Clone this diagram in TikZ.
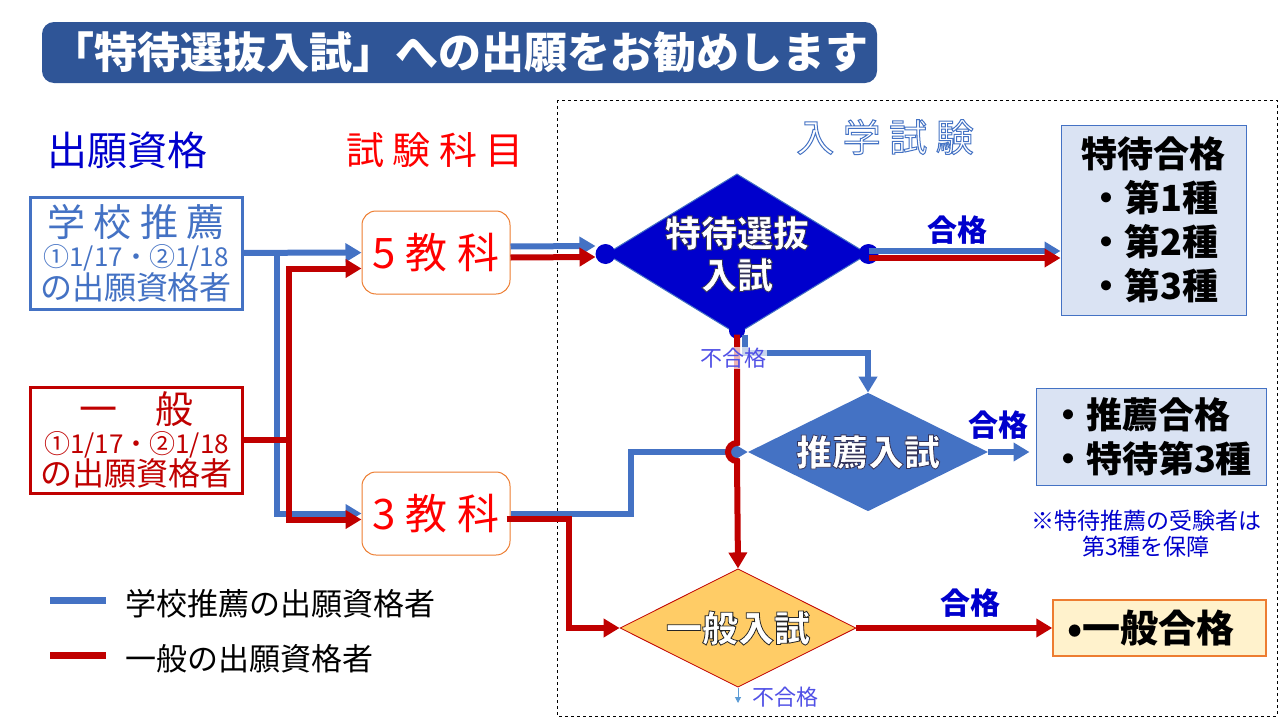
\documentclass[tikz,border=0pt]{standalone}
\usepackage{fontspec}
\setmainfont{Noto Sans CJK JP}
\usetikzlibrary{shapes.geometric,arrows.meta,calc}
\definecolor{titleblue}{RGB}{47,85,151}
\definecolor{lineblue}{RGB}{68,114,196}
\definecolor{linered}{RGB}{192,0,0}
\definecolor{textred}{RGB}{255,0,0}
\definecolor{deepblue}{RGB}{0,0,204}
\definecolor{paleblue}{RGB}{218,227,243}
\definecolor{edgeorange}{RGB}{237,125,49}
\definecolor{ippanfill}{RGB}{255,204,102}
\definecolor{paleyellow}{RGB}{255,242,204}
\definecolor{failblue}{RGB}{80,80,230}
\definecolor{skyline}{RGB}{91,155,213}
% outlined letters (fill + stroke)
\newcommand\rimtext[3]{\special{pdf:literal direct #1 RG #2 w 2 Tr}#3\special{pdf:literal direct 0 Tr}}
\begin{document}
\begin{tikzpicture}[x=1pt, y=-1pt, >={Triangle[length=16pt,width=18pt]},
    every node/.style={inner sep=0pt},
    bl/.style={draw=lineblue, line width=6pt},
    rd/.style={draw=linered, line width=6pt},
    qualbox/.style={draw, line width=3pt, fill=white, minimum width=212pt, minimum height=112pt, align=center, font=\fontsize{26}{30}\selectfont},
    subjbox/.style={draw=edgeorange, line width=1pt, fill=white, rounded corners=14pt, minimum width=148pt, minimum height=83pt, text=textred, font=\fontsize{42}{44}\selectfont},
    decision/.style={diamond, inner sep=-15pt, text=white, align=center, font=\bfseries\fontsize{36}{42}\selectfont},
    passbox/.style={draw=lineblue, line width=1pt, fill=paleblue, font=\bfseries\fontsize{36}{44}\selectfont},
    passlabel/.style={text=deepblue, font=\bfseries\fontsize{30}{32}\selectfont},
    faillabel/.style={text=failblue, font=\fontsize{22}{24}\selectfont}]
\useasboundingbox (0,0) rectangle (1280,720);
\draw[dashed, line width=1pt] (557,100) rectangle (1277,716);

% title
\node[fill=titleblue, rounded corners=12pt, minimum width=835pt, minimum height=61pt, text=white, font=\bfseries\fontsize{43}{43}\selectfont] (title) at (459.5,52.5) {「特待選抜入試」への出願をお勧めします};

\node[text=deepblue, font=\fontsize{40}{40}\selectfont] (qualhead) at (127,150) {出願資格};
\node[text=textred, font=\fontsize{38}{40}\selectfont] (subjhead) at (435,150) {試 験 科 目};
\node[text=white, font=\fontsize{38}{40}\selectfont] (examhead) at (885,137) {\rimtext{0.27 0.45 0.77}{1}{入 学 試 験}};

% qualification
\node[qualbox, draw=lineblue, text=lineblue] (gakko) at (136,253) {{\fontsize{38}{30}\selectfont 学 校 推 薦}\\①1/17・②1/18\\{\fontsize{32}{30}\selectfont の出願資格者}};
\node[qualbox, draw=linered, text=linered, minimum height=106pt] (ippan) at (136.5,440) {{\fontsize{38}{30}\selectfont 一　般}\\①1/17・②1/18\\{\fontsize{32}{30}\selectfont の出願資格者}};

% subjects
\node[subjbox] (gokyo) at (436,252.5) {5 教 科};
\node[subjbox] (sankyo) at (436,513.5) {3 教 科};

% exams
\node[decision, fill=deepblue, draw=lineblue, line width=1pt, minimum width=262pt, minimum height=150pt] (tokutai) at (737,254) {\rimtext{0.2 0.2 0.35}{0.8}{特待選抜\\入試}};
\node[decision, fill=lineblue, minimum width=240pt, minimum height=117pt] (suisenD) at (868,452) {\rimtext{0.2 0.2 0.35}{0.8}{推薦入試}};
\node[decision, fill=ippanfill, draw=linered, line width=0.8pt, minimum width=236pt, minimum height=113pt] (ippanD) at (738,628) {\rimtext{0.15 0.15 0.15}{0.8}{一般入試}};

% results
\node[passbox, minimum width=185pt, minimum height=190pt, align=center] (tokuG) at (1153.5,220) {特待合格\\・第1種\\・第2種\\・第3種};
\node[passbox, minimum width=230pt, minimum height=97pt, align=left] (suisenG) at (1151,436.5) {・推薦合格\\・特待第3種};
\node[passbox, draw=edgeorange, line width=1.5pt, fill=paleyellow, minimum width=213pt, minimum height=56pt, text width=185pt, align=left, font=\bfseries\fontsize{38}{40}\selectfont] (ippanG) at (1159.5,628) {•一般合格};
\node[text=deepblue, align=center, font=\fontsize{23}{26}\selectfont] (note) at (1146,534) {※特待推薦の受験者は\\第3種を保障};

\node[passlabel] (pass1) at (957,230) {合格};
\node[passlabel] (pass2) at (998,425) {合格};
\node[passlabel] (pass3) at (970,603) {合格};

% flows
\draw[bl,->] (gakko) -- (gokyo);
\draw[bl,->] (gakko.east) -- ++(33,0) |- (sankyo.west);
\draw[rd,->] (ippan.east) -- ++(45,0) |- ($(gokyo.west)+(0,16)$);
\draw[rd,->] (ippan.east) -- ++(45,0) |- ($(sankyo.west)+(0,6)$);
\draw[bl,->] ($(gokyo.east)+(0,-6)$) -- ($(tokutai.west)+(-10,-8)$);
\draw[rd,->] ($(gokyo.east)+(0,5)$) -- ($(tokutai.west)+(-10,3)$);
\fill[deepblue] (tokutai.west) circle (10);
\fill[deepblue] (tokutai.east) circle (10);
\fill[deepblue] (tokutai.south) ++(0,-4) circle (8);
\draw[bl,->] ($(tokutai.east)+(0,-3)$) -- ($(tokutai.east -| tokuG.west)+(0,-3)$);
\draw[rd,->] ($(tokutai.east)+(0,4)$) -- ($(tokutai.east -| tokuG.west)+(0,4)$);
\draw[bl,->] ($(tokutai.south)+(8,0)$) |- ($(suisenD.north)+(0,-40)$) -- (suisenD.north);
\draw[bl,->] (sankyo.east) -- ++(120,0) |- (suisenD.west);
\draw[rd,->] (tokutai.south) -- ($(tokutai.south |- suisenD.west)+(0,-9)$) arc[start angle=270, end angle=90, radius=9] -- (ippanD.north);
\draw[rd,->] ($(sankyo.east)+(-4,5)$) -- ++(62,0) |- (ippanD.west);
\draw[bl,->] (suisenD.east) -- ($(suisenD.east -| suisenG.west)+(-6,0)$);
\draw[rd,->] (ippanD) -- (ippanG);

\node[faillabel, fill=white, fill opacity=0.7, text opacity=1, inner sep=1pt] (fail1) at (733,358) {不合格};
\coordinate (failtip) at (738,703);
\draw[skyline, line width=1pt, -{Triangle[length=6pt,width=6pt]}] (ippanD.south) -- (failtip);
\node[faillabel] (fail2) at (785,697) {不合格};

% legend
\coordinate (legbl) at (50,600);
\coordinate (legrd) at (50,655);
\draw[bl, line width=7pt] (legbl) -- ++(56,0);
\draw[rd, line width=7pt] (legrd) -- ++(56,0);
\node[anchor=west, font=\fontsize{31}{31}\selectfont] (legtext1) at (125,604) {学校推薦の出願資格者};
\node[anchor=west, font=\fontsize{31}{31}\selectfont] (legtext2) at (125,659) {一般の出願資格者};
\end{tikzpicture}
\end{document}
